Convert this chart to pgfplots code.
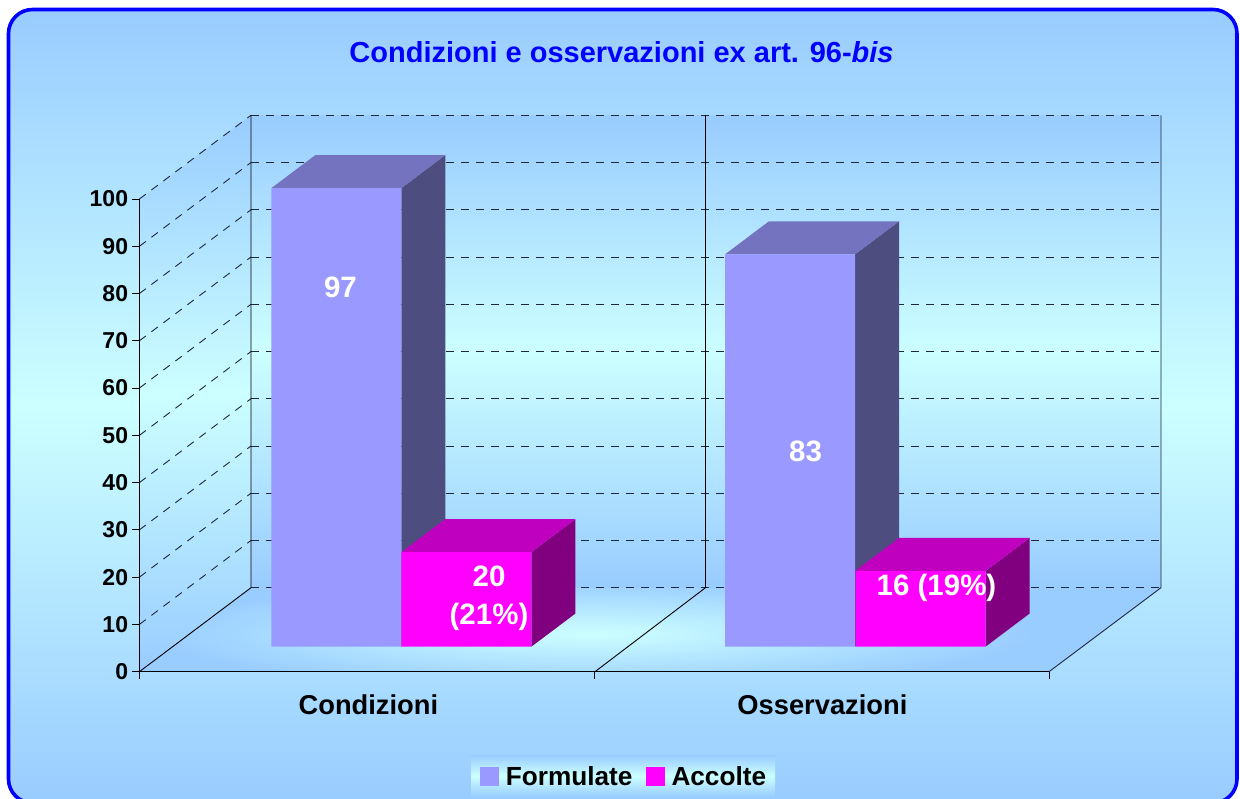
\documentclass[border=0pt]{standalone}
\usepackage{pgfplots}
\pgfplotsset{compat=1.18}
\usepackage{fontspec}
\setmainfont{Liberation Sans}
\definecolor{bgblue}{RGB}{153,204,255}
\definecolor{bgcyan}{RGB}{204,255,255}
\definecolor{pf}{RGB}{153,153,255}
\definecolor{pt}{RGB}{115,115,191}
\definecolor{ps}{RGB}{77,77,128}
\definecolor{mf}{RGB}{255,0,255}
\definecolor{mt}{RGB}{191,0,191}
\definecolor{ms}{RGB}{128,0,128}
\definecolor{gridc}{RGB}{30,40,60}
\newcommand{\bfs}[1]{\fontsize{#1}{#1}\selectfont\bfseries}
\begin{document}
\begin{tikzpicture}
\begin{scope}[x=1pt,y=-1pt]
\path[use as bounding box] (0,0) rectangle (1240,799);
% frame
\begin{scope}
\clip (0,0) rectangle (1240,799);
\shade[top color=bgblue,bottom color=bgblue,middle color=bgcyan,draw=blue,line width=3.6pt,rounded corners=24pt]
  (8.5,9.5) rectangle (1237,803);
\end{scope}
% left wall, back wall
\shade[top color=bgblue,bottom color=bgblue,middle color=bgcyan]
  (139.4,199) -- (251,115.3) -- (251,587.7) -- (139.4,671.7) -- cycle;
\shade[top color=bgblue,bottom color=bgblue,middle color=bgcyan]
  (251,115.3) rectangle (1161,587.7);
% floor
\begin{scope}
\clip (139.4,671.7) -- (251,587.7) -- (1161,587.7) -- (1049,671.7) -- cycle;
\fill[bgblue] (139,587) rectangle (1161,672);
\shade[inner color=bgcyan,outer color=bgblue] (590,634) ellipse [x radius=450,y radius=54];
\end{scope}
% gridlines
\foreach \k in {0,...,10}{
  \pgfmathsetmacro{\yb}{587.7-47.24*\k}
  \pgfmathsetmacro{\yf}{671.7-47.27*\k}
  \draw[gridc,line width=0.9pt,dash pattern=on 8pt off 7pt] (251,\yb) -- (1161,\yb);
  \ifnum\k>0
  \draw[gridc,line width=0.9pt,dash pattern=on 8pt off 7pt] (139.4,\yf) -- (251,\yb);
  \fi
}
\draw[black,line width=0.9pt] (251,115.3) -- (251,587.7) -- (139.4,671.7);
\draw[black,line width=0.9pt] (705.5,115.3) -- (705.5,587.7) -- (595,671.7);
\draw[gridc,line width=0.9pt] (1161,115.3) -- (1161,587.7) -- (1049,671.7);
% legend box
\shade[top color=bgblue,bottom color=bgblue,middle color=bgcyan] (471,755) rectangle (775,797);
\end{scope}

\begin{axis}[
  at={(139.4pt,-671.7pt)},anchor=south west,
  scale only axis,width=909.6pt,height=472.7pt,
  xmin=0,xmax=909.6,ymin=0,ymax=100,clip=false,
  axis x line*=bottom,axis y line*=left,
  axis line style={black,line width=0.9pt},
  tick style={black,line width=0.9pt},
  tick align=outside,major tick length=7pt,
  xtick={0,455.2,909.6},xticklabels={},
  extra x ticks={229,683},extra x tick labels={Condizioni,Osservazioni},
  extra x tick style={major tick length=0pt,tick label style={font=\bfs{27.3}}},
  ytick={0,10,...,100},
  /pgf/number format/assume math mode=true,
  tick label style={font=\bfs{23}},
  y tick label style={xshift=-0.8pt},
  x tick label style={yshift=-19pt},
  legend style={at={(axis cs:484.6,-22.2)},anchor=center,draw=none,fill=none,
    legend columns=2,font=\bfs{26.2},inner sep=0pt,
    /tikz/every odd column/.append style={column sep=5pt},
    /tikz/every even column/.append style={column sep=11pt}},
  legend cell align=left,
  legend image code/.code={\fill[#1] (0pt,-9.5pt) rectangle (19pt,9.5pt);},
]
% Formulate
\addplot[forget plot,fill=ps,draw=none,yshift=25pt] coordinates {(261.9,0)(261.9,97)(305.9,104)(305.9,7)} --cycle;
\addplot[forget plot,fill=pt,draw=none,yshift=25pt] coordinates {(131.9,97)(261.9,97)(305.9,104)(175.9,104)} --cycle;
\addplot[forget plot,fill=ps,draw=none,yshift=25pt] coordinates {(715.6,0)(715.6,83)(759.6,90)(759.6,7)} --cycle;
\addplot[forget plot,fill=pt,draw=none,yshift=25pt] coordinates {(585.6,83)(715.6,83)(759.6,90)(629.6,90)} --cycle;
\addplot[forget plot,ybar,bar width=130pt,bar shift=0pt,fill=pf,draw=none,yshift=25pt] coordinates {(196.9,97)(650.6,83)};
% Accolte
\addplot[forget plot,fill=ms,draw=none,yshift=25pt] coordinates {(391.9,0)(391.9,20)(435.9,27)(435.9,7)} --cycle;
\addplot[forget plot,fill=mt,draw=none,yshift=25pt] coordinates {(261.9,20)(391.9,20)(435.9,27)(305.9,27)} --cycle;
\addplot[forget plot,fill=ms,draw=none,yshift=25pt] coordinates {(846.1,0)(846.1,16)(890.1,23)(890.1,7)} --cycle;
\addplot[forget plot,fill=mt,draw=none,yshift=25pt] coordinates {(715.6,16)(846.1,16)(890.1,23)(759.6,23)} --cycle;
\addplot[forget plot,ybar,bar width=130pt,bar shift=0pt,fill=mf,draw=none,yshift=25pt] coordinates {(326.9,20)(781.1,16)};
\addlegendimage{fill=pf,draw=none}\addlegendentry{Formulate}
\addlegendimage{fill=mf,draw=none}\addlegendentry{Accolte}
\end{axis}

\begin{scope}[x=1pt,y=-1pt]
\node[text=blue,font=\bfs{29}] at (621.5,52) {Condizioni e osservazioni ex art. 96-\textit{bis}};
\node[text=white,font=\bfs{29.5}] at (340.5,287) {97};
\node[text=white,font=\bfs{29.5}] at (805.5,451) {83};
\node[text=white,font=\bfs{29.5}] at (489,576) {20};
\node[text=white,font=\bfs{29.5}] at (489,617) {(21\%)};
\node[text=white,font=\bfs{29.5}] at (936.5,588) {16 (19\%)};
\end{scope}
\end{tikzpicture}
\end{document}
